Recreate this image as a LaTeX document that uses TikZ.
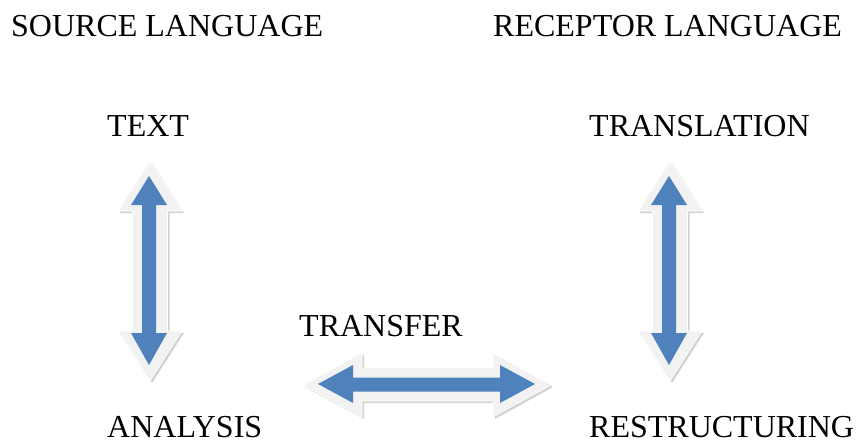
\documentclass[tikz,border=0pt]{standalone}
\usepackage{fontspec}
\setmainfont{Liberation Serif}
\usetikzlibrary{shadows}
\definecolor{arrblue}{HTML}{4F81BD}
\definecolor{arrout}{HTML}{F2F2F2}
\begin{document}
\begin{tikzpicture}[x=1pt,y=-1pt,
  lbl/.style={anchor=base west,inner sep=0pt,font=\fontsize{32}{38}\selectfont},
  outerarrow/.style={fill=arrout,draw=white,line width=0.6pt,
    drop shadow={shadow xshift=2pt,shadow yshift=-2pt,fill=black!35,opacity=0.5}},
  innerarrow/.style={fill=arrblue,draw=none}]
\useasboundingbox (0,0) rectangle (857,440);
% labels
\node[lbl] (src) at (11,36) {SOURCE LANGUAGE};
\node[lbl] (rec) at (493,36) {RECEPTOR LANGUAGE};
\node[lbl] (text) at (107,136) {TEXT};
\node[lbl] (trl) at (589,136) {TRANSLATION};
\node[lbl] (trf) at (299,336) {TRANSFER};
\node[lbl] (ana) at (107,437) {ANALYSIS};
\node[lbl] (rst) at (589,437) {RESTRUCTURING};
% left vertical arrow
\foreach \cx in {150,670}{
  \path[outerarrow] (\cx,161) -- (\cx+32,211) -- (\cx+17.5,211) -- (\cx+17.5,331)
    -- (\cx+32,331) -- (\cx,381) -- (\cx-32,331) -- (\cx-17.5,331)
    -- (\cx-17.5,211) -- (\cx-32,211) -- cycle;
  \path[innerarrow] (\cx-1,176) -- (\cx+17,205) -- (\cx+6,205) -- (\cx+6,333)
    -- (\cx+17,333) -- (\cx-1,365) -- (\cx-19,333) -- (\cx-8,333)
    -- (\cx-8,205) -- (\cx-19,205) -- cycle;
}
% horizontal arrow
\path[outerarrow] (303,385) -- (362,353) -- (362,368) -- (493,368) -- (493,353)
  -- (551,385) -- (493,417) -- (493,401) -- (362,401) -- (362,417) -- cycle;
\path[innerarrow] (318,384) -- (353,365) -- (353,377.5) -- (500,377.5) -- (500,365)
  -- (535,384) -- (500,403) -- (500,391.5) -- (353,391.5) -- (353,403) -- cycle;
\end{tikzpicture}
\end{document}
